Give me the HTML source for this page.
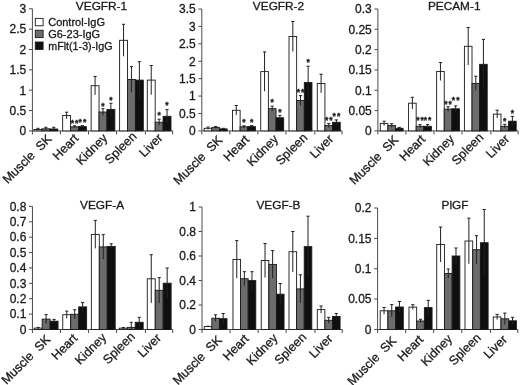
<!DOCTYPE html>
<html><head><meta charset="utf-8"><title>Figure</title>
<style>
html,body{margin:0;padding:0;background:#fff;}
svg{display:block;filter:blur(0.35px);}
text{font-family:"Liberation Sans", sans-serif;fill:#1a1a1a;stroke:#1a1a1a;stroke-width:0.3px;}
.ax{stroke:#4a4a4a;stroke-width:1;}
.bar{stroke:#1a1a1a;stroke-width:0.9;}
.eb{stroke:#222;stroke-width:1;}
.tk{font-size:12px;text-anchor:end;}
.xl{font-size:12.5px;text-anchor:end;white-space:pre;}
.ti{font-size:11.5px;text-anchor:middle;}
.lg{font-size:11px;}
.st{font-size:8.5px;text-anchor:middle;font-weight:bold;}
</style></head>
<body>
<svg width="520" height="385" viewBox="0 0 520 385">
<rect width="520" height="385" fill="#fff"/>
<line x1="32.4" y1="8.8" x2="32.4" y2="134.4" class="ax"/>
<line x1="29" y1="130.9" x2="32.4" y2="130.9" class="ax"/>
<text x="26.3" y="135.2" class="tk">0</text>
<line x1="29" y1="110.55" x2="32.4" y2="110.55" class="ax"/>
<text x="26.3" y="114.85" class="tk">0.5</text>
<line x1="29" y1="90.2" x2="32.4" y2="90.2" class="ax"/>
<text x="26.3" y="94.5" class="tk">1</text>
<line x1="29" y1="69.85" x2="32.4" y2="69.85" class="ax"/>
<text x="26.3" y="74.15" class="tk">1.5</text>
<line x1="29" y1="49.5" x2="32.4" y2="49.5" class="ax"/>
<text x="26.3" y="53.8" class="tk">2</text>
<line x1="29" y1="29.15" x2="32.4" y2="29.15" class="ax"/>
<text x="26.3" y="33.45" class="tk">2.5</text>
<line x1="29" y1="8.8" x2="32.4" y2="8.8" class="ax"/>
<text x="26.3" y="13.1" class="tk">3</text>
<line x1="32.4" y1="130.9" x2="172.65" y2="130.9" class="ax"/>
<line x1="60.45" y1="130.9" x2="60.45" y2="134.4" class="ax"/>
<line x1="88.5" y1="130.9" x2="88.5" y2="134.4" class="ax"/>
<line x1="116.55" y1="130.9" x2="116.55" y2="134.4" class="ax"/>
<line x1="145.4" y1="130.9" x2="145.4" y2="134.4" class="ax"/>
<line x1="172.65" y1="130.9" x2="172.65" y2="134.4" class="ax"/>
<rect x="34" y="129.5" width="7.9" height="1.4" fill="#fff" class="bar"/>
<line x1="37.95" y1="128.3" x2="37.95" y2="130.7" class="eb"/>
<line x1="36.35" y1="128.3" x2="39.55" y2="128.3" class="eb"/>
<rect x="41.9" y="128.8" width="7.9" height="2.1" fill="#6c6c6c" class="bar"/>
<line x1="45.85" y1="127.3" x2="45.85" y2="130.3" class="eb"/>
<line x1="44.25" y1="127.3" x2="47.45" y2="127.3" class="eb"/>
<rect x="49.8" y="129" width="7.9" height="1.9" fill="#0f0f0f" class="bar"/>
<line x1="53.75" y1="127.3" x2="53.75" y2="130.7" class="eb"/>
<line x1="52.15" y1="127.3" x2="55.35" y2="127.3" class="eb"/>
<rect x="62.67" y="115.5" width="7.9" height="15.4" fill="#fff" class="bar"/>
<line x1="66.62" y1="112.2" x2="66.62" y2="118.8" class="eb"/>
<line x1="65.02" y1="112.2" x2="68.22" y2="112.2" class="eb"/>
<rect x="70.57" y="126.8" width="7.9" height="4.1" fill="#6c6c6c" class="bar"/>
<line x1="74.52" y1="125.8" x2="74.52" y2="127.8" class="eb"/>
<line x1="72.92" y1="125.8" x2="76.12" y2="125.8" class="eb"/>
<rect x="78.47" y="126.6" width="7.9" height="4.3" fill="#0f0f0f" class="bar"/>
<line x1="82.42" y1="125.6" x2="82.42" y2="127.6" class="eb"/>
<line x1="80.82" y1="125.6" x2="84.02" y2="125.6" class="eb"/>
<rect x="91.14" y="85.7" width="7.9" height="45.2" fill="#fff" class="bar"/>
<line x1="95.09" y1="76.5" x2="95.09" y2="94.9" class="eb"/>
<line x1="93.49" y1="76.5" x2="96.69" y2="76.5" class="eb"/>
<rect x="99.04" y="112" width="7.9" height="18.9" fill="#6c6c6c" class="bar"/>
<line x1="102.99" y1="108.7" x2="102.99" y2="115.3" class="eb"/>
<line x1="101.39" y1="108.7" x2="104.59" y2="108.7" class="eb"/>
<rect x="106.94" y="109.4" width="7.9" height="21.5" fill="#0f0f0f" class="bar"/>
<line x1="110.89" y1="103.2" x2="110.89" y2="115.6" class="eb"/>
<line x1="109.29" y1="103.2" x2="112.49" y2="103.2" class="eb"/>
<rect x="119.61" y="40.3" width="7.9" height="90.6" fill="#fff" class="bar"/>
<line x1="123.56" y1="24.3" x2="123.56" y2="56.3" class="eb"/>
<line x1="121.96" y1="24.3" x2="125.16" y2="24.3" class="eb"/>
<rect x="127.51" y="79.5" width="7.9" height="51.4" fill="#6c6c6c" class="bar"/>
<line x1="131.46" y1="66.6" x2="131.46" y2="92.4" class="eb"/>
<line x1="129.86" y1="66.6" x2="133.06" y2="66.6" class="eb"/>
<rect x="135.41" y="80.1" width="7.9" height="50.8" fill="#0f0f0f" class="bar"/>
<line x1="139.36" y1="61.7" x2="139.36" y2="98.5" class="eb"/>
<line x1="137.76" y1="61.7" x2="140.96" y2="61.7" class="eb"/>
<rect x="147.28" y="80.1" width="7.9" height="50.8" fill="#fff" class="bar"/>
<line x1="151.23" y1="65.5" x2="151.23" y2="94.7" class="eb"/>
<line x1="149.63" y1="65.5" x2="152.83" y2="65.5" class="eb"/>
<rect x="155.18" y="122.2" width="7.9" height="8.7" fill="#6c6c6c" class="bar"/>
<line x1="159.13" y1="119.2" x2="159.13" y2="125.2" class="eb"/>
<line x1="157.53" y1="119.2" x2="160.73" y2="119.2" class="eb"/>
<rect x="163.08" y="116.3" width="7.9" height="14.6" fill="#0f0f0f" class="bar"/>
<line x1="167.03" y1="109.6" x2="167.03" y2="123" class="eb"/>
<line x1="165.43" y1="109.6" x2="168.63" y2="109.6" class="eb"/>
<text x="72.37" y="125.7" class="st">*</text>
<text x="76.67" y="125.7" class="st">*</text>
<text x="80.27" y="124.8" class="st">*</text>
<text x="84.57" y="124.8" class="st">*</text>
<text x="102.99" y="109.3" class="st">*</text>
<text x="110.89" y="102.9" class="st">*</text>
<text x="159.13" y="118.4" class="st">*</text>
<text x="167.03" y="108.2" class="st">*</text>
<text transform="translate(52.42,139.6) rotate(-45)" class="xl">Muscle  SK</text>
<text transform="translate(79.28,139.1) rotate(-45)" class="xl">Heart</text>
<text transform="translate(108.23,138.7) rotate(-45)" class="xl">Kidney</text>
<text transform="translate(137.38,137.1) rotate(-45)" class="xl">Spleen</text>
<text transform="translate(163.43,138.7) rotate(-45)" class="xl">Liver</text>
<text transform="translate(101.5,10) scale(1.03,1)" class="ti">VEGFR-1</text>
<line x1="201.8" y1="9" x2="201.8" y2="134.4" class="ax"/>
<line x1="198.4" y1="130.9" x2="201.8" y2="130.9" class="ax"/>
<text x="195.7" y="135.2" class="tk">0</text>
<line x1="198.4" y1="113.49" x2="201.8" y2="113.49" class="ax"/>
<text x="195.7" y="117.79" class="tk">0.5</text>
<line x1="198.4" y1="96.07" x2="201.8" y2="96.07" class="ax"/>
<text x="195.7" y="100.37" class="tk">1</text>
<line x1="198.4" y1="78.66" x2="201.8" y2="78.66" class="ax"/>
<text x="195.7" y="82.96" class="tk">1.5</text>
<line x1="198.4" y1="61.24" x2="201.8" y2="61.24" class="ax"/>
<text x="195.7" y="65.54" class="tk">2</text>
<line x1="198.4" y1="43.83" x2="201.8" y2="43.83" class="ax"/>
<text x="195.7" y="48.13" class="tk">2.5</text>
<line x1="198.4" y1="26.41" x2="201.8" y2="26.41" class="ax"/>
<text x="195.7" y="30.71" class="tk">3</text>
<line x1="198.4" y1="9" x2="201.8" y2="9" class="ax"/>
<text x="195.7" y="13.3" class="tk">3.5</text>
<line x1="201.8" y1="130.9" x2="342.05" y2="130.9" class="ax"/>
<line x1="229.85" y1="130.9" x2="229.85" y2="134.4" class="ax"/>
<line x1="257.9" y1="130.9" x2="257.9" y2="134.4" class="ax"/>
<line x1="285.95" y1="130.9" x2="285.95" y2="134.4" class="ax"/>
<line x1="314.8" y1="130.9" x2="314.8" y2="134.4" class="ax"/>
<line x1="342.05" y1="130.9" x2="342.05" y2="134.4" class="ax"/>
<rect x="204.2" y="128.3" width="7.65" height="2.6" fill="#fff" class="bar"/>
<line x1="208.02" y1="127.1" x2="208.02" y2="129.5" class="eb"/>
<line x1="206.42" y1="127.1" x2="209.62" y2="127.1" class="eb"/>
<rect x="211.85" y="127.4" width="7.65" height="3.5" fill="#6c6c6c" class="bar"/>
<line x1="215.67" y1="126.5" x2="215.67" y2="128.3" class="eb"/>
<line x1="214.07" y1="126.5" x2="217.27" y2="126.5" class="eb"/>
<rect x="219.5" y="128.9" width="7.65" height="2" fill="#0f0f0f" class="bar"/>
<line x1="223.32" y1="128.3" x2="223.32" y2="129.5" class="eb"/>
<line x1="221.72" y1="128.3" x2="224.92" y2="128.3" class="eb"/>
<rect x="232.47" y="110.3" width="7.65" height="20.6" fill="#fff" class="bar"/>
<line x1="236.29" y1="105.5" x2="236.29" y2="115.1" class="eb"/>
<line x1="234.69" y1="105.5" x2="237.89" y2="105.5" class="eb"/>
<rect x="240.12" y="126.8" width="7.65" height="4.1" fill="#6c6c6c" class="bar"/>
<line x1="243.94" y1="125.8" x2="243.94" y2="127.8" class="eb"/>
<line x1="242.34" y1="125.8" x2="245.54" y2="125.8" class="eb"/>
<rect x="247.77" y="126.6" width="7.65" height="4.3" fill="#0f0f0f" class="bar"/>
<line x1="251.59" y1="125.6" x2="251.59" y2="127.6" class="eb"/>
<line x1="250" y1="125.6" x2="253.19" y2="125.6" class="eb"/>
<rect x="260.74" y="71.6" width="7.65" height="59.3" fill="#fff" class="bar"/>
<line x1="264.56" y1="51.9" x2="264.56" y2="91.3" class="eb"/>
<line x1="262.96" y1="51.9" x2="266.17" y2="51.9" class="eb"/>
<rect x="268.39" y="108.6" width="7.65" height="22.3" fill="#6c6c6c" class="bar"/>
<line x1="272.21" y1="106.2" x2="272.21" y2="111" class="eb"/>
<line x1="270.61" y1="106.2" x2="273.81" y2="106.2" class="eb"/>
<rect x="276.04" y="117.8" width="7.65" height="13.1" fill="#0f0f0f" class="bar"/>
<line x1="279.87" y1="115.3" x2="279.87" y2="120.3" class="eb"/>
<line x1="278.26" y1="115.3" x2="281.47" y2="115.3" class="eb"/>
<rect x="289.01" y="36.5" width="7.65" height="94.4" fill="#fff" class="bar"/>
<line x1="292.83" y1="21.5" x2="292.83" y2="51.5" class="eb"/>
<line x1="291.23" y1="21.5" x2="294.44" y2="21.5" class="eb"/>
<rect x="296.66" y="100.5" width="7.65" height="30.4" fill="#6c6c6c" class="bar"/>
<line x1="300.48" y1="95.6" x2="300.48" y2="105.4" class="eb"/>
<line x1="298.88" y1="95.6" x2="302.08" y2="95.6" class="eb"/>
<rect x="304.31" y="82.5" width="7.65" height="48.4" fill="#0f0f0f" class="bar"/>
<line x1="308.13" y1="66.2" x2="308.13" y2="98.8" class="eb"/>
<line x1="306.53" y1="66.2" x2="309.74" y2="66.2" class="eb"/>
<rect x="317.28" y="83.5" width="7.65" height="47.4" fill="#fff" class="bar"/>
<line x1="321.1" y1="74.2" x2="321.1" y2="92.8" class="eb"/>
<line x1="319.5" y1="74.2" x2="322.7" y2="74.2" class="eb"/>
<rect x="324.93" y="125.5" width="7.65" height="5.4" fill="#6c6c6c" class="bar"/>
<line x1="328.75" y1="123.4" x2="328.75" y2="127.6" class="eb"/>
<line x1="327.15" y1="123.4" x2="330.35" y2="123.4" class="eb"/>
<rect x="332.58" y="122.3" width="7.65" height="8.6" fill="#0f0f0f" class="bar"/>
<line x1="336.4" y1="119.9" x2="336.4" y2="124.7" class="eb"/>
<line x1="334.8" y1="119.9" x2="338" y2="119.9" class="eb"/>
<text x="243.94" y="125.2" class="st">*</text>
<text x="251.59" y="125.2" class="st">*</text>
<text x="272.21" y="105.4" class="st">*</text>
<text x="279.87" y="115.3" class="st">*</text>
<text x="298.33" y="95.4" class="st">*</text>
<text x="302.63" y="95.4" class="st">*</text>
<text x="308.13" y="65.4" class="st">*</text>
<text x="326.6" y="123" class="st">*</text>
<text x="330.9" y="123" class="st">*</text>
<text x="334.25" y="118.9" class="st">*</text>
<text x="338.55" y="118.9" class="st">*</text>
<text transform="translate(223.23,140.8) rotate(-45)" class="xl">Muscle  SK</text>
<text transform="translate(250.08,140.3) rotate(-45)" class="xl">Heart</text>
<text transform="translate(279.02,139.9) rotate(-45)" class="xl">Kidney</text>
<text transform="translate(308.18,138.3) rotate(-45)" class="xl">Spleen</text>
<text transform="translate(334.22,139.9) rotate(-45)" class="xl">Liver</text>
<text transform="translate(278.5,10) scale(1.03,1)" class="ti">VEGFR-2</text>
<line x1="377.9" y1="9" x2="377.9" y2="134.4" class="ax"/>
<line x1="374.5" y1="130.9" x2="377.9" y2="130.9" class="ax"/>
<text x="371.8" y="135.2" class="tk">0</text>
<line x1="374.5" y1="110.58" x2="377.9" y2="110.58" class="ax"/>
<text x="371.8" y="114.88" class="tk">0.05</text>
<line x1="374.5" y1="90.27" x2="377.9" y2="90.27" class="ax"/>
<text x="371.8" y="94.57" class="tk">0.1</text>
<line x1="374.5" y1="69.95" x2="377.9" y2="69.95" class="ax"/>
<text x="371.8" y="74.25" class="tk">0.15</text>
<line x1="374.5" y1="49.63" x2="377.9" y2="49.63" class="ax"/>
<text x="371.8" y="53.93" class="tk">0.2</text>
<line x1="374.5" y1="29.32" x2="377.9" y2="29.32" class="ax"/>
<text x="371.8" y="33.62" class="tk">0.25</text>
<line x1="374.5" y1="9" x2="377.9" y2="9" class="ax"/>
<text x="371.8" y="13.3" class="tk">0.3</text>
<line x1="377.9" y1="130.9" x2="518.15" y2="130.9" class="ax"/>
<line x1="405.95" y1="130.9" x2="405.95" y2="134.4" class="ax"/>
<line x1="434" y1="130.9" x2="434" y2="134.4" class="ax"/>
<line x1="462.05" y1="130.9" x2="462.05" y2="134.4" class="ax"/>
<line x1="490.9" y1="130.9" x2="490.9" y2="134.4" class="ax"/>
<line x1="518.15" y1="130.9" x2="518.15" y2="134.4" class="ax"/>
<rect x="380.3" y="123.4" width="7.6" height="7.5" fill="#fff" class="bar"/>
<line x1="384.1" y1="121.2" x2="384.1" y2="125.6" class="eb"/>
<line x1="382.5" y1="121.2" x2="385.7" y2="121.2" class="eb"/>
<rect x="387.9" y="125.5" width="7.6" height="5.4" fill="#6c6c6c" class="bar"/>
<line x1="391.7" y1="123.7" x2="391.7" y2="127.3" class="eb"/>
<line x1="390.1" y1="123.7" x2="393.3" y2="123.7" class="eb"/>
<rect x="395.5" y="128.3" width="7.6" height="2.6" fill="#0f0f0f" class="bar"/>
<line x1="399.3" y1="127.4" x2="399.3" y2="129.2" class="eb"/>
<line x1="397.7" y1="127.4" x2="400.9" y2="127.4" class="eb"/>
<rect x="408.57" y="103.2" width="7.6" height="27.7" fill="#fff" class="bar"/>
<line x1="412.37" y1="97.3" x2="412.37" y2="109.1" class="eb"/>
<line x1="410.77" y1="97.3" x2="413.97" y2="97.3" class="eb"/>
<rect x="416.17" y="126.3" width="7.6" height="4.6" fill="#6c6c6c" class="bar"/>
<line x1="419.97" y1="124.6" x2="419.97" y2="128" class="eb"/>
<line x1="418.37" y1="124.6" x2="421.57" y2="124.6" class="eb"/>
<rect x="423.77" y="126.3" width="7.6" height="4.6" fill="#0f0f0f" class="bar"/>
<line x1="427.57" y1="124.6" x2="427.57" y2="128" class="eb"/>
<line x1="425.97" y1="124.6" x2="429.17" y2="124.6" class="eb"/>
<rect x="436.64" y="71.5" width="7.6" height="59.4" fill="#fff" class="bar"/>
<line x1="440.44" y1="62.5" x2="440.44" y2="80.5" class="eb"/>
<line x1="438.84" y1="62.5" x2="442.04" y2="62.5" class="eb"/>
<rect x="444.24" y="109.1" width="7.6" height="21.8" fill="#6c6c6c" class="bar"/>
<line x1="448.04" y1="106.7" x2="448.04" y2="111.5" class="eb"/>
<line x1="446.44" y1="106.7" x2="449.64" y2="106.7" class="eb"/>
<rect x="451.84" y="108.8" width="7.6" height="22.1" fill="#0f0f0f" class="bar"/>
<line x1="455.64" y1="105.9" x2="455.64" y2="111.7" class="eb"/>
<line x1="454.04" y1="105.9" x2="457.24" y2="105.9" class="eb"/>
<rect x="464.41" y="46.3" width="7.6" height="84.6" fill="#fff" class="bar"/>
<line x1="468.21" y1="27.5" x2="468.21" y2="65.1" class="eb"/>
<line x1="466.61" y1="27.5" x2="469.81" y2="27.5" class="eb"/>
<rect x="472.01" y="83.4" width="7.6" height="47.5" fill="#6c6c6c" class="bar"/>
<line x1="475.81" y1="76.2" x2="475.81" y2="90.6" class="eb"/>
<line x1="474.21" y1="76.2" x2="477.41" y2="76.2" class="eb"/>
<rect x="479.61" y="64.3" width="7.6" height="66.6" fill="#0f0f0f" class="bar"/>
<line x1="483.41" y1="39.4" x2="483.41" y2="89.2" class="eb"/>
<line x1="481.81" y1="39.4" x2="485.01" y2="39.4" class="eb"/>
<rect x="493.38" y="114.1" width="7.6" height="16.8" fill="#fff" class="bar"/>
<line x1="497.18" y1="110.2" x2="497.18" y2="118" class="eb"/>
<line x1="495.58" y1="110.2" x2="498.78" y2="110.2" class="eb"/>
<rect x="500.98" y="126.3" width="7.6" height="4.6" fill="#6c6c6c" class="bar"/>
<line x1="504.78" y1="124.3" x2="504.78" y2="128.3" class="eb"/>
<line x1="503.18" y1="124.3" x2="506.38" y2="124.3" class="eb"/>
<rect x="508.58" y="121.2" width="7.6" height="9.7" fill="#0f0f0f" class="bar"/>
<line x1="512.38" y1="116.4" x2="512.38" y2="126" class="eb"/>
<line x1="510.78" y1="116.4" x2="513.98" y2="116.4" class="eb"/>
<text x="417.82" y="123.2" class="st">*</text>
<text x="422.12" y="123.2" class="st">*</text>
<text x="425.42" y="123.2" class="st">*</text>
<text x="429.72" y="123.2" class="st">*</text>
<text x="445.89" y="107.2" class="st">*</text>
<text x="450.19" y="107.2" class="st">*</text>
<text x="453.49" y="103.3" class="st">*</text>
<text x="457.79" y="103.3" class="st">*</text>
<text x="504.78" y="123.7" class="st">*</text>
<text x="512.38" y="115.9" class="st">*</text>
<text transform="translate(399.22,140.6) rotate(-45)" class="xl">Muscle  SK</text>
<text transform="translate(426.07,140.1) rotate(-45)" class="xl">Heart</text>
<text transform="translate(455.02,139.7) rotate(-45)" class="xl">Kidney</text>
<text transform="translate(484.17,138.1) rotate(-45)" class="xl">Spleen</text>
<text transform="translate(510.22,139.7) rotate(-45)" class="xl">Liver</text>
<text transform="translate(454.2,10) scale(1.03,1)" class="ti">PECAM-1</text>
<line x1="32.45" y1="206.4" x2="32.45" y2="333" class="ax"/>
<line x1="29.05" y1="329.5" x2="32.45" y2="329.5" class="ax"/>
<text x="26.35" y="333.8" class="tk">0</text>
<line x1="29.05" y1="314.11" x2="32.45" y2="314.11" class="ax"/>
<text x="26.35" y="318.41" class="tk">0.1</text>
<line x1="29.05" y1="298.73" x2="32.45" y2="298.73" class="ax"/>
<text x="26.35" y="303.03" class="tk">0.2</text>
<line x1="29.05" y1="283.34" x2="32.45" y2="283.34" class="ax"/>
<text x="26.35" y="287.64" class="tk">0.3</text>
<line x1="29.05" y1="267.95" x2="32.45" y2="267.95" class="ax"/>
<text x="26.35" y="272.25" class="tk">0.4</text>
<line x1="29.05" y1="252.56" x2="32.45" y2="252.56" class="ax"/>
<text x="26.35" y="256.86" class="tk">0.5</text>
<line x1="29.05" y1="237.18" x2="32.45" y2="237.18" class="ax"/>
<text x="26.35" y="241.48" class="tk">0.6</text>
<line x1="29.05" y1="221.79" x2="32.45" y2="221.79" class="ax"/>
<text x="26.35" y="226.09" class="tk">0.7</text>
<line x1="29.05" y1="206.4" x2="32.45" y2="206.4" class="ax"/>
<text x="26.35" y="210.7" class="tk">0.8</text>
<line x1="32.45" y1="329.5" x2="172.7" y2="329.5" class="ax"/>
<line x1="60.5" y1="329.5" x2="60.5" y2="333" class="ax"/>
<line x1="88.55" y1="329.5" x2="88.55" y2="333" class="ax"/>
<line x1="116.6" y1="329.5" x2="116.6" y2="333" class="ax"/>
<line x1="145.45" y1="329.5" x2="145.45" y2="333" class="ax"/>
<line x1="172.7" y1="329.5" x2="172.7" y2="333" class="ax"/>
<rect x="34.2" y="328.1" width="7.95" height="1.4" fill="#fff" class="bar"/>
<line x1="38.18" y1="327.4" x2="38.18" y2="328.8" class="eb"/>
<line x1="36.58" y1="327.4" x2="39.78" y2="327.4" class="eb"/>
<rect x="42.15" y="319.1" width="7.95" height="10.4" fill="#6c6c6c" class="bar"/>
<line x1="46.13" y1="314.6" x2="46.13" y2="323.6" class="eb"/>
<line x1="44.53" y1="314.6" x2="47.73" y2="314.6" class="eb"/>
<rect x="50.1" y="321.2" width="7.95" height="8.3" fill="#0f0f0f" class="bar"/>
<line x1="54.08" y1="319.4" x2="54.08" y2="323" class="eb"/>
<line x1="52.48" y1="319.4" x2="55.68" y2="319.4" class="eb"/>
<rect x="62.77" y="314.7" width="7.95" height="14.8" fill="#fff" class="bar"/>
<line x1="66.74" y1="311.1" x2="66.74" y2="318.3" class="eb"/>
<line x1="65.14" y1="311.1" x2="68.34" y2="311.1" class="eb"/>
<rect x="70.72" y="314.3" width="7.95" height="15.2" fill="#6c6c6c" class="bar"/>
<line x1="74.69" y1="309.7" x2="74.69" y2="318.9" class="eb"/>
<line x1="73.09" y1="309.7" x2="76.29" y2="309.7" class="eb"/>
<rect x="78.67" y="306.9" width="7.95" height="22.6" fill="#0f0f0f" class="bar"/>
<line x1="82.64" y1="302.6" x2="82.64" y2="311.2" class="eb"/>
<line x1="81.05" y1="302.6" x2="84.24" y2="302.6" class="eb"/>
<rect x="91.34" y="234.4" width="7.95" height="95.1" fill="#fff" class="bar"/>
<line x1="95.31" y1="220.4" x2="95.31" y2="248.4" class="eb"/>
<line x1="93.72" y1="220.4" x2="96.91" y2="220.4" class="eb"/>
<rect x="99.29" y="246.9" width="7.95" height="82.6" fill="#6c6c6c" class="bar"/>
<line x1="103.27" y1="234.6" x2="103.27" y2="259.2" class="eb"/>
<line x1="101.67" y1="234.6" x2="104.86" y2="234.6" class="eb"/>
<rect x="107.24" y="246.4" width="7.95" height="83.1" fill="#0f0f0f" class="bar"/>
<line x1="111.22" y1="243.8" x2="111.22" y2="249" class="eb"/>
<line x1="109.62" y1="243.8" x2="112.81" y2="243.8" class="eb"/>
<rect x="119.31" y="328.2" width="7.95" height="1.3" fill="#fff" class="bar"/>
<line x1="123.28" y1="327.5" x2="123.28" y2="328.9" class="eb"/>
<line x1="121.69" y1="327.5" x2="124.88" y2="327.5" class="eb"/>
<rect x="127.26" y="327.4" width="7.95" height="2.1" fill="#6c6c6c" class="bar"/>
<line x1="131.24" y1="322.3" x2="131.24" y2="329.5" class="eb"/>
<line x1="129.64" y1="322.3" x2="132.84" y2="322.3" class="eb"/>
<rect x="135.21" y="322.3" width="7.95" height="7.2" fill="#0f0f0f" class="bar"/>
<line x1="139.19" y1="317.3" x2="139.19" y2="327.3" class="eb"/>
<line x1="137.59" y1="317.3" x2="140.78" y2="317.3" class="eb"/>
<rect x="147.28" y="278.8" width="7.95" height="50.7" fill="#fff" class="bar"/>
<line x1="151.25" y1="254.7" x2="151.25" y2="302.9" class="eb"/>
<line x1="149.66" y1="254.7" x2="152.85" y2="254.7" class="eb"/>
<rect x="155.23" y="290.3" width="7.95" height="39.2" fill="#6c6c6c" class="bar"/>
<line x1="159.2" y1="277.6" x2="159.2" y2="303" class="eb"/>
<line x1="157.6" y1="277.6" x2="160.8" y2="277.6" class="eb"/>
<rect x="163.18" y="283.2" width="7.95" height="46.3" fill="#0f0f0f" class="bar"/>
<line x1="167.16" y1="268" x2="167.16" y2="298.4" class="eb"/>
<line x1="165.56" y1="268" x2="168.75" y2="268" class="eb"/>
<text transform="translate(51.17,340.2) rotate(-45)" class="xl">Muscle  SK</text>
<text transform="translate(78.12,339) rotate(-45)" class="xl">Heart</text>
<text transform="translate(107.08,338.3) rotate(-45)" class="xl">Kidney</text>
<text transform="translate(135.62,337.2) rotate(-45)" class="xl">Spleen</text>
<text transform="translate(161.88,338.9) rotate(-45)" class="xl">Liver</text>
<text transform="translate(102.1,208.7) scale(1.03,1)" class="ti">VEGF-A</text>
<line x1="202" y1="207" x2="202" y2="333" class="ax"/>
<line x1="198.6" y1="329.5" x2="202" y2="329.5" class="ax"/>
<text x="195.9" y="333.8" class="tk">0</text>
<line x1="198.6" y1="305" x2="202" y2="305" class="ax"/>
<text x="195.9" y="309.3" class="tk">0.2</text>
<line x1="198.6" y1="280.5" x2="202" y2="280.5" class="ax"/>
<text x="195.9" y="284.8" class="tk">0.4</text>
<line x1="198.6" y1="256" x2="202" y2="256" class="ax"/>
<text x="195.9" y="260.3" class="tk">0.6</text>
<line x1="198.6" y1="231.5" x2="202" y2="231.5" class="ax"/>
<text x="195.9" y="235.8" class="tk">0.8</text>
<line x1="198.6" y1="207" x2="202" y2="207" class="ax"/>
<text x="195.9" y="211.3" class="tk">1</text>
<line x1="202" y1="329.5" x2="342.25" y2="329.5" class="ax"/>
<line x1="230.05" y1="329.5" x2="230.05" y2="333" class="ax"/>
<line x1="258.1" y1="329.5" x2="258.1" y2="333" class="ax"/>
<line x1="286.15" y1="329.5" x2="286.15" y2="333" class="ax"/>
<line x1="315" y1="329.5" x2="315" y2="333" class="ax"/>
<line x1="342.25" y1="329.5" x2="342.25" y2="333" class="ax"/>
<rect x="204.2" y="326.6" width="7.6" height="2.9" fill="#fff" class="bar"/>
<line x1="208" y1="326.2" x2="208" y2="327" class="eb"/>
<line x1="206.4" y1="326.2" x2="209.6" y2="326.2" class="eb"/>
<rect x="211.8" y="318.2" width="7.6" height="11.3" fill="#6c6c6c" class="bar"/>
<line x1="215.6" y1="314.8" x2="215.6" y2="321.6" class="eb"/>
<line x1="214" y1="314.8" x2="217.2" y2="314.8" class="eb"/>
<rect x="219.4" y="318.7" width="7.6" height="10.8" fill="#0f0f0f" class="bar"/>
<line x1="223.2" y1="313.5" x2="223.2" y2="323.9" class="eb"/>
<line x1="221.6" y1="313.5" x2="224.8" y2="313.5" class="eb"/>
<rect x="232.97" y="259.4" width="7.6" height="70.1" fill="#fff" class="bar"/>
<line x1="236.77" y1="240.6" x2="236.77" y2="278.2" class="eb"/>
<line x1="235.17" y1="240.6" x2="238.37" y2="240.6" class="eb"/>
<rect x="240.57" y="278.7" width="7.6" height="50.8" fill="#6c6c6c" class="bar"/>
<line x1="244.37" y1="271.7" x2="244.37" y2="285.7" class="eb"/>
<line x1="242.77" y1="271.7" x2="245.97" y2="271.7" class="eb"/>
<rect x="248.17" y="280.6" width="7.6" height="48.9" fill="#0f0f0f" class="bar"/>
<line x1="251.97" y1="271.7" x2="251.97" y2="289.5" class="eb"/>
<line x1="250.37" y1="271.7" x2="253.57" y2="271.7" class="eb"/>
<rect x="261.24" y="260.5" width="7.6" height="69" fill="#fff" class="bar"/>
<line x1="265.04" y1="243.5" x2="265.04" y2="277.5" class="eb"/>
<line x1="263.44" y1="243.5" x2="266.64" y2="243.5" class="eb"/>
<rect x="268.84" y="264.4" width="7.6" height="65.1" fill="#6c6c6c" class="bar"/>
<line x1="272.64" y1="250.6" x2="272.64" y2="278.2" class="eb"/>
<line x1="271.04" y1="250.6" x2="274.24" y2="250.6" class="eb"/>
<rect x="276.44" y="294.2" width="7.6" height="35.3" fill="#0f0f0f" class="bar"/>
<line x1="280.24" y1="283.5" x2="280.24" y2="304.9" class="eb"/>
<line x1="278.64" y1="283.5" x2="281.84" y2="283.5" class="eb"/>
<rect x="289.01" y="251.7" width="7.6" height="77.8" fill="#fff" class="bar"/>
<line x1="292.81" y1="231.5" x2="292.81" y2="271.9" class="eb"/>
<line x1="291.21" y1="231.5" x2="294.41" y2="231.5" class="eb"/>
<rect x="296.61" y="288.9" width="7.6" height="40.6" fill="#6c6c6c" class="bar"/>
<line x1="300.41" y1="274.8" x2="300.41" y2="303" class="eb"/>
<line x1="298.81" y1="274.8" x2="302.01" y2="274.8" class="eb"/>
<rect x="304.21" y="246.6" width="7.6" height="82.9" fill="#0f0f0f" class="bar"/>
<line x1="308.01" y1="216.2" x2="308.01" y2="277" class="eb"/>
<line x1="306.41" y1="216.2" x2="309.61" y2="216.2" class="eb"/>
<rect x="317.28" y="309.6" width="7.6" height="19.9" fill="#fff" class="bar"/>
<line x1="321.08" y1="306" x2="321.08" y2="313.2" class="eb"/>
<line x1="319.48" y1="306" x2="322.68" y2="306" class="eb"/>
<rect x="324.88" y="320.3" width="7.6" height="9.2" fill="#6c6c6c" class="bar"/>
<line x1="328.68" y1="317.4" x2="328.68" y2="323.2" class="eb"/>
<line x1="327.08" y1="317.4" x2="330.28" y2="317.4" class="eb"/>
<rect x="332.48" y="316.4" width="7.6" height="13.1" fill="#0f0f0f" class="bar"/>
<line x1="336.28" y1="313.5" x2="336.28" y2="319.3" class="eb"/>
<line x1="334.68" y1="313.5" x2="337.88" y2="313.5" class="eb"/>
<text transform="translate(222.63,340.8) rotate(-45)" class="xl">Muscle  SK</text>
<text transform="translate(249.58,339.6) rotate(-45)" class="xl">Heart</text>
<text transform="translate(278.52,338.9) rotate(-45)" class="xl">Kidney</text>
<text transform="translate(307.07,337.8) rotate(-45)" class="xl">Spleen</text>
<text transform="translate(333.32,339.5) rotate(-45)" class="xl">Liver</text>
<text transform="translate(278.5,208.7) scale(1.03,1)" class="ti">VEGF-B</text>
<line x1="377.6" y1="208" x2="377.6" y2="333" class="ax"/>
<line x1="374.2" y1="329.5" x2="377.6" y2="329.5" class="ax"/>
<text x="371.5" y="333.8" class="tk">0</text>
<line x1="374.2" y1="299.12" x2="377.6" y2="299.12" class="ax"/>
<text x="371.5" y="303.43" class="tk">0.05</text>
<line x1="374.2" y1="268.75" x2="377.6" y2="268.75" class="ax"/>
<text x="371.5" y="273.05" class="tk">0.1</text>
<line x1="374.2" y1="238.38" x2="377.6" y2="238.38" class="ax"/>
<text x="371.5" y="242.68" class="tk">0.15</text>
<line x1="374.2" y1="208" x2="377.6" y2="208" class="ax"/>
<text x="371.5" y="212.3" class="tk">0.2</text>
<line x1="377.6" y1="329.5" x2="517.85" y2="329.5" class="ax"/>
<line x1="405.65" y1="329.5" x2="405.65" y2="333" class="ax"/>
<line x1="433.7" y1="329.5" x2="433.7" y2="333" class="ax"/>
<line x1="461.75" y1="329.5" x2="461.75" y2="333" class="ax"/>
<line x1="490.6" y1="329.5" x2="490.6" y2="333" class="ax"/>
<line x1="517.85" y1="329.5" x2="517.85" y2="333" class="ax"/>
<rect x="380.2" y="310.8" width="7.7" height="18.7" fill="#fff" class="bar"/>
<line x1="384.05" y1="307.4" x2="384.05" y2="314.2" class="eb"/>
<line x1="382.45" y1="307.4" x2="385.65" y2="307.4" class="eb"/>
<rect x="387.9" y="310.8" width="7.7" height="18.7" fill="#6c6c6c" class="bar"/>
<line x1="391.75" y1="304.6" x2="391.75" y2="317" class="eb"/>
<line x1="390.15" y1="304.6" x2="393.35" y2="304.6" class="eb"/>
<rect x="395.6" y="307" width="7.7" height="22.5" fill="#0f0f0f" class="bar"/>
<line x1="399.45" y1="301.5" x2="399.45" y2="312.5" class="eb"/>
<line x1="397.85" y1="301.5" x2="401.05" y2="301.5" class="eb"/>
<rect x="408.97" y="307.1" width="7.7" height="22.4" fill="#fff" class="bar"/>
<line x1="412.82" y1="304.7" x2="412.82" y2="309.5" class="eb"/>
<line x1="411.22" y1="304.7" x2="414.42" y2="304.7" class="eb"/>
<rect x="416.67" y="321" width="7.7" height="8.5" fill="#6c6c6c" class="bar"/>
<line x1="420.52" y1="319.3" x2="420.52" y2="322.7" class="eb"/>
<line x1="418.92" y1="319.3" x2="422.12" y2="319.3" class="eb"/>
<rect x="424.37" y="307.6" width="7.7" height="21.9" fill="#0f0f0f" class="bar"/>
<line x1="428.22" y1="300.4" x2="428.22" y2="314.8" class="eb"/>
<line x1="426.62" y1="300.4" x2="429.82" y2="300.4" class="eb"/>
<rect x="436.74" y="244.5" width="7.7" height="85" fill="#fff" class="bar"/>
<line x1="440.59" y1="227" x2="440.59" y2="262" class="eb"/>
<line x1="438.99" y1="227" x2="442.19" y2="227" class="eb"/>
<rect x="444.44" y="273.5" width="7.7" height="56" fill="#6c6c6c" class="bar"/>
<line x1="448.29" y1="269" x2="448.29" y2="278" class="eb"/>
<line x1="446.69" y1="269" x2="449.89" y2="269" class="eb"/>
<rect x="452.14" y="256" width="7.7" height="73.5" fill="#0f0f0f" class="bar"/>
<line x1="455.99" y1="248" x2="455.99" y2="264" class="eb"/>
<line x1="454.39" y1="248" x2="457.59" y2="248" class="eb"/>
<rect x="465.01" y="241" width="7.7" height="88.5" fill="#fff" class="bar"/>
<line x1="468.86" y1="218.2" x2="468.86" y2="263.8" class="eb"/>
<line x1="467.26" y1="218.2" x2="470.46" y2="218.2" class="eb"/>
<rect x="472.71" y="249.7" width="7.7" height="79.8" fill="#6c6c6c" class="bar"/>
<line x1="476.56" y1="235.7" x2="476.56" y2="263.7" class="eb"/>
<line x1="474.96" y1="235.7" x2="478.16" y2="235.7" class="eb"/>
<rect x="480.41" y="242.7" width="7.7" height="86.8" fill="#0f0f0f" class="bar"/>
<line x1="484.26" y1="209.5" x2="484.26" y2="275.9" class="eb"/>
<line x1="482.66" y1="209.5" x2="485.86" y2="209.5" class="eb"/>
<rect x="493.28" y="317" width="7.7" height="12.5" fill="#fff" class="bar"/>
<line x1="497.13" y1="314.4" x2="497.13" y2="319.6" class="eb"/>
<line x1="495.53" y1="314.4" x2="498.73" y2="314.4" class="eb"/>
<rect x="500.98" y="318.8" width="7.7" height="10.7" fill="#6c6c6c" class="bar"/>
<line x1="504.83" y1="313.1" x2="504.83" y2="324.5" class="eb"/>
<line x1="503.23" y1="313.1" x2="506.43" y2="313.1" class="eb"/>
<rect x="508.68" y="320.8" width="7.7" height="8.7" fill="#0f0f0f" class="bar"/>
<line x1="512.53" y1="317.3" x2="512.53" y2="324.3" class="eb"/>
<line x1="510.93" y1="317.3" x2="514.13" y2="317.3" class="eb"/>
<text transform="translate(397.12,341.5) rotate(-45)" class="xl">Muscle  SK</text>
<text transform="translate(424.08,340.3) rotate(-45)" class="xl">Heart</text>
<text transform="translate(453.03,339.6) rotate(-45)" class="xl">Kidney</text>
<text transform="translate(481.57,338.5) rotate(-45)" class="xl">Spleen</text>
<text transform="translate(507.82,340.2) rotate(-45)" class="xl">Liver</text>
<text transform="translate(455,208.7) scale(1.03,1)" class="ti">PlGF</text>
<rect x="35.3" y="18.4" width="7.8" height="7.4" fill="#fff" class="bar"/>
<text x="48.2" y="26" class="lg">Control-IgG</text>
<rect x="35.3" y="30.2" width="7.8" height="7.4" fill="#6c6c6c" class="bar"/>
<text x="48.2" y="37.8" class="lg">G6-23-IgG</text>
<rect x="35.3" y="42" width="7.8" height="7.4" fill="#0f0f0f" class="bar"/>
<text transform="translate(48.2,49.6) scale(0.975,1)" class="lg">mFlt(1-3)-IgG</text>
</svg>
</body></html>
